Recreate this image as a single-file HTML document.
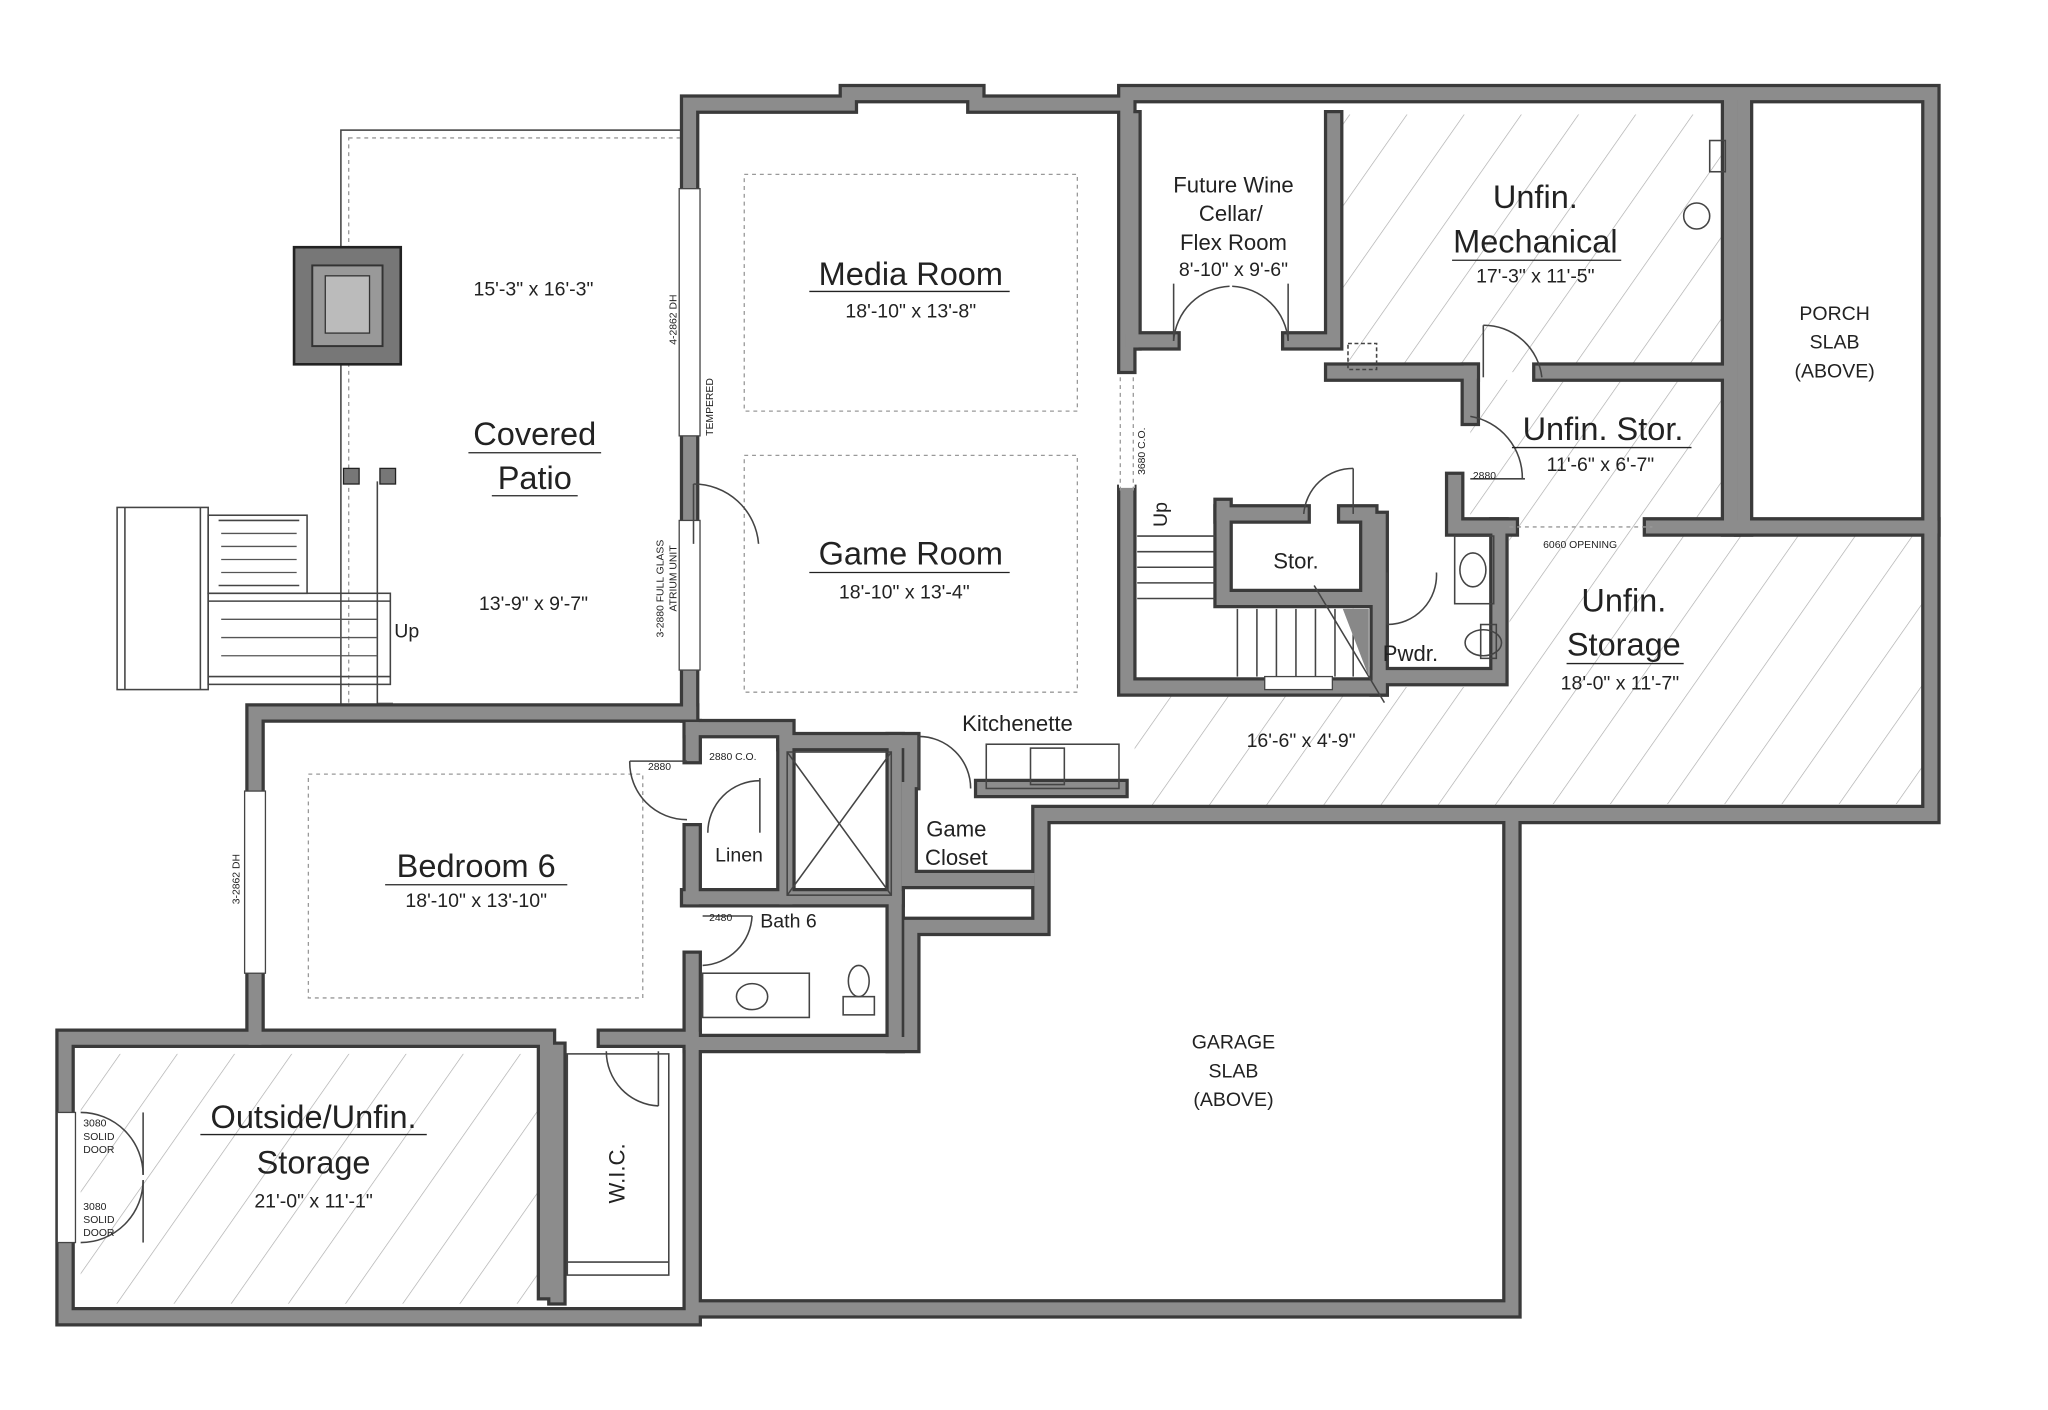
<!DOCTYPE html>
<html><head><meta charset="utf-8"><style>
html,body{margin:0;padding:0;background:#fff}
svg{display:block}
.wo{fill:none;stroke:#3a3a3a;stroke-width:15;stroke-linejoin:miter;stroke-linecap:square}
.wi{fill:none;stroke:#8c8c8c;stroke-width:10;stroke-linejoin:miter;stroke-linecap:square}
.thin{fill:none;stroke:#444;stroke-width:1.2}
.dash{fill:none;stroke:#999;stroke-width:1;stroke-dasharray:3 3}
text{font-family:"Liberation Sans",sans-serif;fill:#222}
.big{font-size:25px}
.med{font-size:17px}
.sm{font-size:15px}
.tiny{font-size:8px}
</style></head><body>
<svg width="2048" height="1410" viewBox="0 0 1574 1083.7" preserveAspectRatio="none" xmlns="http://www.w3.org/2000/svg">
<defs>
<pattern id="h" patternUnits="userSpaceOnUse" width="36" height="36" patternTransform="rotate(35)">
<line x1="0" y1="0" x2="0" y2="36" stroke="#aaa" stroke-width="1"/>
</pattern>
</defs>
<rect width="1600" height="1100" fill="#fff"/>
<!-- hatching -->
<rect x="1032" y="88" width="298" height="198" fill="url(#h)"/>
<rect x="1130" y="292" width="200" height="120" fill="url(#h)"/>
<rect x="1160" y="412" width="318" height="206" fill="url(#h)"/>
<rect x="872" y="528" width="290" height="92" fill="url(#h)"/>
<rect x="62" y="810" width="356" height="192" fill="url(#h)"/>
<!-- patio -->
<rect x="262" y="100" width="262" height="444" class="thin"/>
<rect x="268" y="106" width="256" height="438" class="dash"/>
<rect x="226" y="190" width="82" height="90" fill="#777" stroke="#222" stroke-width="2"/>
<rect x="240" y="204" width="54" height="62" fill="#999" stroke="#333" stroke-width="1.5"/>
<rect x="250" y="212" width="34" height="44" fill="#bbb" stroke="#333"/>
<rect x="264" y="360" width="12" height="12" fill="#777" stroke="#222"/>
<rect x="292" y="360" width="12" height="12" fill="#777" stroke="#222"/>
<rect x="290" y="540" width="12" height="8" fill="#777"/>
<!-- patio stairs -->
<g class="thin">
<rect x="90" y="390" width="70" height="140"/>
<line x1="96" y1="390" x2="96" y2="530"/><line x1="154" y1="390" x2="154" y2="530"/>
<rect x="160" y="396" width="76" height="60"/>
<rect x="160" y="456" width="140" height="70"/>
<line x1="160" y1="462" x2="300" y2="462"/><line x1="160" y1="520" x2="300" y2="520"/>
<line x1="168" y1="400" x2="230" y2="400"/><line x1="168" y1="450" x2="230" y2="450"/>
<line x1="290" y1="370" x2="290" y2="545"/>
</g>
<g stroke="#555" stroke-width="1">
<line x1="170" y1="410" x2="228" y2="410"/><line x1="170" y1="420" x2="228" y2="420"/><line x1="170" y1="430" x2="228" y2="430"/><line x1="170" y1="440" x2="228" y2="440"/>
<line x1="170" y1="476" x2="290" y2="476"/><line x1="170" y1="490" x2="290" y2="490"/><line x1="170" y1="504" x2="290" y2="504"/>
</g>
<!-- dashed ceiling outlines -->
<rect x="572" y="134" width="256" height="182" class="dash"/>
<rect x="572" y="350" width="256" height="182" class="dash"/>
<rect x="237" y="595" width="257" height="172" class="dash"/>
<!-- walls -->
<g class="wo"><path d="M530 548 L530 80 L652 80 L652 72 L750 72 L750 80 L866 80 L866 72 L1484 72 L1484 626 L1162 626 L1162 1006 L532 1006 L532 802 L700 802 L700 712 L800 712 L800 626 L1160 626"/>
<path d="M530 548 L196 548 L196 798 L50 798 L50 1012 L532 1012"/><path d="M196 798 L420 798 L420 992"/><path d="M428 808 L428 996"/><path d="M466 798 L532 798"/><path d="M532 560 L532 580"/><path d="M532 640 L532 690"/><path d="M532 738 L532 802"/><path d="M532 560 L604 560 L604 690"/><path d="M530 690 L688 690 L688 570 L604 570"/><path d="M688 570 L700 570 L700 600"/><path d="M688 690 L688 802"/><path d="M698 606 L698 676 L790 676"/><path d="M756 606 L860 606"/>
<path d="M866 80 L866 280"/><path d="M866 380 L866 528 L1060 528"/><path d="M870 262 L900 262"/><path d="M992 262 L1025 262 L1025 92"/><path d="M870 92 L870 262"/><path d="M1025 286 L1130 286"/><path d="M1185 286 L1330 286"/><path d="M1330 80 L1330 405"/><path d="M1340 80 L1340 405 L1484 405"/><path d="M1270 405 L1340 405"/><path d="M1130 286 L1130 320"/><path d="M1118 370 L1118 405 L1160 405"/><path d="M940 390 L940 460 L1052 460 L1052 395 L1035 395"/><path d="M940 395 L1000 395"/><path d="M1060 400 L1060 528"/><path d="M1152 405 L1152 520 L1060 520"/></g>
<g class="wi"><path d="M530 548 L530 80 L652 80 L652 72 L750 72 L750 80 L866 80 L866 72 L1484 72 L1484 626 L1162 626 L1162 1006 L532 1006 L532 802 L700 802 L700 712 L800 712 L800 626 L1160 626"/>
<path d="M530 548 L196 548 L196 798 L50 798 L50 1012 L532 1012"/><path d="M196 798 L420 798 L420 992"/><path d="M428 808 L428 996"/><path d="M466 798 L532 798"/><path d="M532 560 L532 580"/><path d="M532 640 L532 690"/><path d="M532 738 L532 802"/><path d="M532 560 L604 560 L604 690"/><path d="M530 690 L688 690 L688 570 L604 570"/><path d="M688 570 L700 570 L700 600"/><path d="M688 690 L688 802"/><path d="M698 606 L698 676 L790 676"/><path d="M756 606 L860 606"/>
<path d="M866 80 L866 280"/><path d="M866 380 L866 528 L1060 528"/><path d="M870 262 L900 262"/><path d="M992 262 L1025 262 L1025 92"/><path d="M870 92 L870 262"/><path d="M1025 286 L1130 286"/><path d="M1185 286 L1330 286"/><path d="M1330 80 L1330 405"/><path d="M1340 80 L1340 405 L1484 405"/><path d="M1270 405 L1340 405"/><path d="M1130 286 L1130 320"/><path d="M1118 370 L1118 405 L1160 405"/><path d="M940 390 L940 460 L1052 460 L1052 395 L1035 395"/><path d="M940 395 L1000 395"/><path d="M1060 400 L1060 528"/><path d="M1152 405 L1152 520 L1060 520"/></g>
<!-- window openings -->
<rect x="522" y="145" width="16" height="190" fill="#fff" stroke="#444"/>
<rect x="522" y="400" width="16" height="115" fill="#fff" stroke="#444"/>
<rect x="188" y="608" width="16" height="140" fill="#fff" stroke="#444"/>
<rect x="44" y="855" width="14" height="100" fill="#fff" stroke="#444"/>
<rect x="972" y="520" width="52" height="10" fill="#fff" stroke="#444"/>
<rect x="860" y="290" width="12" height="85" fill="#fff"/>
<line x1="861" y1="290" x2="861" y2="380" class="dash"/><line x1="871" y1="290" x2="871" y2="380" class="dash"/>
<line x1="1160" y1="405" x2="1270" y2="405" class="dash"/>
<!-- doors -->
<g class="thin">
<path d="M533 372 A50 50 0 0 1 583 418"/><line x1="533" y1="372" x2="533" y2="418"/>
<path d="M902 262 A45 45 0 0 1 945 220"/><line x1="902" y1="262" x2="902" y2="218"/>
<path d="M990 262 A45 45 0 0 0 947 220"/><line x1="990" y1="262" x2="990" y2="218"/>
<path d="M1140 250 A45 45 0 0 1 1185 290"/><line x1="1140" y1="250" x2="1140" y2="290"/>
<path d="M1130 320 A48 48 0 0 1 1170 368"/><line x1="1130" y1="368" x2="1172" y2="368"/>
<path d="M1002 395 A38 38 0 0 1 1040 360"/><line x1="1040" y1="360" x2="1040" y2="395"/>
<path d="M1066 480 A38 38 0 0 0 1104 440"/><line x1="1066" y1="440" x2="1066" y2="480"/>
<path d="M484 585 A44 44 0 0 0 528 630"/><line x1="484" y1="585" x2="528" y2="585"/>
<path d="M544 640 A40 40 0 0 1 584 600"/><line x1="584" y1="598" x2="584" y2="640"/>
<path d="M540 742 A40 40 0 0 0 578 704"/><line x1="540" y1="704" x2="578" y2="704"/>
<path d="M706 566 A40 40 0 0 1 746 606"/><line x1="706" y1="566" x2="706" y2="606"/>
<path d="M466 808 A42 42 0 0 0 506 850"/><line x1="506" y1="808" x2="506" y2="850"/>
<path d="M62 855 A48 48 0 0 1 110 903"/><path d="M62 955 A48 48 0 0 0 110 907"/>
<line x1="110" y1="855" x2="110" y2="903"/><line x1="110" y1="907" x2="110" y2="955"/>
</g>
<!-- interior stairs -->
<g class="thin">
<line x1="874" y1="412" x2="934" y2="412"/><line x1="874" y1="424" x2="934" y2="424"/><line x1="874" y1="436" x2="934" y2="436"/><line x1="874" y1="448" x2="934" y2="448"/><line x1="874" y1="460" x2="934" y2="460"/>
<line x1="951" y1="468" x2="951" y2="520"/><line x1="966" y1="468" x2="966" y2="520"/><line x1="981" y1="468" x2="981" y2="520"/><line x1="996" y1="468" x2="996" y2="520"/><line x1="1011" y1="468" x2="1011" y2="520"/><line x1="1026" y1="468" x2="1026" y2="520"/><line x1="1040" y1="468" x2="1040" y2="520"/>
<line x1="1010" y1="450" x2="1064" y2="540"/>
</g>
<path d="M1032 468 L1052 468 L1052 520 Z" fill="#888"/>
<!-- fixtures -->
<g class="thin">
<rect x="605" y="578" width="80" height="110"/><line x1="605" y1="578" x2="685" y2="688"/><line x1="685" y1="578" x2="605" y2="688"/>
<rect x="540" y="748" width="82" height="34"/><ellipse cx="578" cy="766" rx="12" ry="10"/>
<ellipse cx="660" cy="754" rx="8" ry="12"/><rect x="648" y="766" width="24" height="14"/>
<rect x="1118" y="412" width="30" height="52"/><ellipse cx="1132" cy="438" rx="10" ry="13"/>
<ellipse cx="1140" cy="494" rx="14" ry="10"/><rect x="1138" y="480" width="12" height="26"/>
<rect x="758" y="572" width="102" height="34"/><rect x="792" y="575" width="26" height="28"/>
<circle cx="1304" cy="166" r="10"/><rect x="1314" y="108" width="12" height="24"/>
<rect x="1036" y="264" width="22" height="20" stroke-dasharray="3 2"/>
<rect x="436" y="810" width="78" height="170"/><line x1="436" y1="970" x2="514" y2="970"/>
</g>
<!-- labels -->
<text x="410" y="227" class="sm" text-anchor="middle">15'-3" x 16'-3"</text>
<text x="411" y="342" class="big" text-anchor="middle">Covered</text>
<line x1="360" y1="348" x2="462" y2="348" stroke="#222"/>
<text x="411" y="376" class="big" text-anchor="middle">Patio</text>
<line x1="378" y1="381" x2="444" y2="381" stroke="#222"/>
<text x="410" y="469" class="sm" text-anchor="middle">13'-9" x 9'-7"</text>
<text x="303" y="490" class="sm">Up</text>
<text x="700" y="219" class="big" text-anchor="middle">Media Room</text>
<line x1="622" y1="224" x2="776" y2="224" stroke="#222"/>
<text x="700" y="244" class="sm" text-anchor="middle">18'-10" x 13'-8"</text>
<text x="700" y="434" class="big" text-anchor="middle">Game Room</text>
<line x1="622" y1="440" x2="776" y2="440" stroke="#222"/>
<text x="695" y="460" class="sm" text-anchor="middle">18'-10" x 13'-4"</text>
<text x="948" y="148" class="med" text-anchor="middle">Future Wine</text>
<text x="946" y="170" class="med" text-anchor="middle">Cellar/</text>
<text x="948" y="192" class="med" text-anchor="middle">Flex Room</text>
<text x="948" y="212" class="sm" text-anchor="middle">8'-10" x 9'-6"</text>
<text x="1180" y="160" class="big" text-anchor="middle">Unfin.</text>
<text x="1180" y="194" class="big" text-anchor="middle">Mechanical</text>
<line x1="1116" y1="200" x2="1246" y2="200" stroke="#222"/>
<text x="1180" y="217" class="sm" text-anchor="middle">17'-3" x 11'-5"</text>
<text x="1410" y="246" class="sm" text-anchor="middle">PORCH</text>
<text x="1410" y="268" class="sm" text-anchor="middle">SLAB</text>
<text x="1410" y="290" class="sm" text-anchor="middle">(ABOVE)</text>
<text x="1232" y="338" class="big" text-anchor="middle">Unfin. Stor.</text>
<line x1="1162" y1="344" x2="1300" y2="344" stroke="#222"/>
<text x="1230" y="362" class="sm" text-anchor="middle">11'-6" x 6'-7"</text>
<text x="1248" y="470" class="big" text-anchor="middle">Unfin.</text>
<text x="1248" y="504" class="big" text-anchor="middle">Storage</text>
<line x1="1204" y1="510" x2="1294" y2="510" stroke="#222"/>
<text x="1245" y="530" class="sm" text-anchor="middle">18'-0" x 11'-7"</text>
<text x="996" y="437" class="med" text-anchor="middle">Stor.</text>
<text x="1084" y="508" class="med" text-anchor="middle">Pwdr.</text>
<text x="1000" y="574" class="sm" text-anchor="middle">16'-6" x 4'-9"</text>
<text x="782" y="562" class="med" text-anchor="middle">Kitchenette</text>
<text x="735" y="643" class="med" text-anchor="middle">Game</text>
<text x="735" y="665" class="med" text-anchor="middle">Closet</text>
<text x="366" y="674" class="big" text-anchor="middle">Bedroom 6</text>
<line x1="296" y1="680" x2="436" y2="680" stroke="#222"/>
<text x="366" y="697" class="sm" text-anchor="middle">18'-10" x 13'-10"</text>
<text x="568" y="662" class="sm" text-anchor="middle">Linen</text>
<text x="606" y="713" class="sm" text-anchor="middle">Bath 6</text>
<text x="241" y="867" class="big" text-anchor="middle">Outside/Unfin.</text>
<line x1="154" y1="872" x2="328" y2="872" stroke="#222"/>
<text x="241" y="902" class="big" text-anchor="middle">Storage</text>
<text x="241" y="928" class="sm" text-anchor="middle">21'-0" x 11'-1"</text>
<text x="948" y="806" class="sm" text-anchor="middle">GARAGE</text>
<text x="948" y="828" class="sm" text-anchor="middle">SLAB</text>
<text x="948" y="850" class="sm" text-anchor="middle">(ABOVE)</text>
<text transform="translate(480,925) rotate(-90)" class="med">W.I.C.</text>
<text transform="translate(520,265) rotate(-90)" class="tiny">4-2862 DH</text>
<text transform="translate(548,335) rotate(-90)" class="tiny">TEMPERED</text>
<text transform="translate(510,490) rotate(-90)" class="tiny">3-2880 FULL GLASS</text>
<text transform="translate(520,470) rotate(-90)" class="tiny">ATRIUM UNIT</text>
<text transform="translate(184,695) rotate(-90)" class="tiny">3-2862 DH</text>
<text transform="translate(880,365) rotate(-90)" class="tiny">3680 C.O.</text>
<text transform="translate(897,405) rotate(-90)" class="sm">Up</text>
<text x="1186" y="421" class="tiny">6060 OPENING</text>
<text x="1132" y="368" class="tiny">2880</text>
<text x="545" y="584" class="tiny">2880 C.O.</text>
<text x="498" y="592" class="tiny">2880</text>
<text x="545" y="708" class="tiny">2480</text>
<text x="64" y="866" class="tiny">3080</text><text x="64" y="876" class="tiny">SOLID</text><text x="64" y="886" class="tiny">DOOR</text>
<text x="64" y="930" class="tiny">3080</text><text x="64" y="940" class="tiny">SOLID</text><text x="64" y="950" class="tiny">DOOR</text>
</svg>
</body></html>
